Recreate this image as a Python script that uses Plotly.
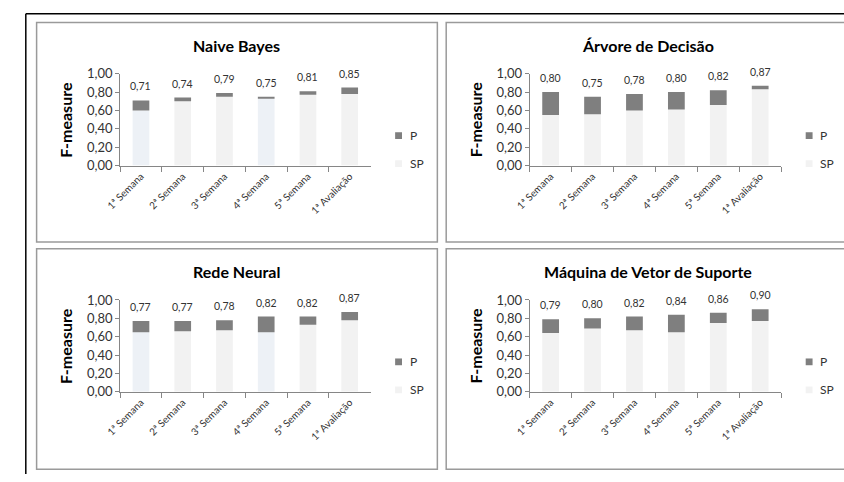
import plotly.graph_objects as go

W, H = 844, 482

categories = ["1ª Semana", "2ª Semana", "3ª Semana", "4ª Semana", "5ª Semana", "1ª Avaliação"]

# F-measure without preprocessing (SP) and with preprocessing (P)
nb_sp = [0.60, 0.70, 0.75, 0.73, 0.77, 0.78]
nb_p = [0.71, 0.74, 0.79, 0.75, 0.81, 0.85]

ad_sp = [0.55, 0.56, 0.60, 0.61, 0.66, 0.83]
ad_p = [0.80, 0.75, 0.78, 0.80, 0.82, 0.87]

rn_sp = [0.65, 0.66, 0.67, 0.65, 0.73, 0.78]
rn_p = [0.77, 0.77, 0.78, 0.82, 0.82, 0.87]

svm_sp = [0.64, 0.69, 0.67, 0.65, 0.75, 0.77]
svm_p = [0.79, 0.80, 0.82, 0.84, 0.86, 0.90]

titles = ["Naive Bayes", "Árvore de Decisão", "Rede Neural", "Máquina de Vetor de Suporte"]
y_ticks = [0.0, 0.2, 0.4, 0.6, 0.8, 1.0]
y_ticktext = ["0,00", "0,20", "0,40", "0,60", "0,80", "1,00"]
legend_names = ["P", "SP"]

FONT = "Lato, 'Open Sans', sans-serif"
DARK = "#7f7f7f"
LIGHT = "#f2f2f2"
LIGHT_BLUE = "#edf1f6"
AXIS = "#868686"
TXT = "#333333"


def px(x):
    return x / W


def py(y):
    return 1 - y / H


# pixel layout: (panel box, plot area box)
panels = [
    dict(box=(22, 15, 430, 242), plot=(107, 68, 362, 163), sp=nb_sp, p=nb_p, light_alt=True),
    dict(box=(439, 15, 852, 242), plot=(524, 68, 780, 163), sp=ad_sp, p=ad_p, light_alt=False),
    dict(box=(22, 249, 430, 477), plot=(107, 302, 362, 397), sp=rn_sp, p=rn_p, light_alt=True),
    dict(box=(439, 249, 852, 477), plot=(524, 302, 780, 397), sp=svm_sp, p=svm_p, light_alt=False),
]

fig = go.Figure()
shapes = []
annotations = []
layout_axes = {}

for i, (pan, title) in enumerate(zip(panels, titles), start=1):
    xa = "x" if i == 1 else f"x{i}"
    ya = "y" if i == 1 else f"y{i}"
    sp = pan["sp"]
    p = pan["p"]
    gain = [round(b - a, 4) for a, b in zip(sp, p)]
    if pan["light_alt"]:
        light_colors = [LIGHT_BLUE, LIGHT, LIGHT, LIGHT_BLUE, LIGHT, LIGHT]
    else:
        light_colors = [LIGHT] * 6

    fig.add_trace(go.Bar(
        x=categories, y=sp, name="SP", xaxis=xa, yaxis=ya, showlegend=False,
        marker=dict(color=light_colors, line=dict(width=0)),
        hoverinfo="skip",
    ))
    fig.add_trace(go.Bar(
        x=categories, y=gain, base=sp, name="P", xaxis=xa, yaxis=ya, showlegend=False,
        marker=dict(color=DARK, line=dict(width=0)),
        hoverinfo="skip",
    ))
    # total value labels above each bar
    for c, v in zip(categories, p):
        annotations.append(dict(
            x=c, y=v, xref=xa, yref=ya, text=f"{v:.2f}".replace(".", ","),
            showarrow=False, yanchor="middle", yshift=14,
            font=dict(family=FONT, size=10.5, color=TXT),
        ))

    bx0, by0, bx1, by1 = pan["box"]
    x0, y0, x1, y1 = pan["plot"]

    shapes.append(dict(
        type="rect", xref="paper", yref="paper",
        x0=px(bx0), x1=px(bx1), y0=py(by1), y1=py(by0),
        line=dict(color="#9a9a9a", width=1.5), fillcolor="rgba(0,0,0,0)",
    ))

    annotations.append(dict(
        x=px(226 if i in (1, 3) else 644), y=py(by0 + 24),
        xref="paper", yref="paper", text=f"<b>{title}</b>", showarrow=False,
        xanchor="center", yanchor="middle",
        font=dict(family=FONT, size=16, color="#000000"),
    ))
    annotations.append(dict(
        x=px(x0 - 55), y=py((y0 + y1) / 2), xref="paper", yref="paper",
        text="<b>F-measure</b>", textangle=-90, showarrow=False,
        xanchor="center", yanchor="middle",
        font=dict(family=FONT, size=16, color="#000000"),
    ))

    # legend: small swatch squares with labels
    for name, col, dy in zip(legend_names, [DARK, LIGHT], [-31, -2]):
        cy = y1 + dy
        shapes.append(dict(
            type="rect", xref="paper", yref="paper",
            x0=px(x1 + 25), x1=px(x1 + 32), y0=py(cy + 3.5), y1=py(cy - 3.5),
            line=dict(width=0), fillcolor=col,
        ))
        annotations.append(dict(
            x=px(x1 + 38), y=py(cy), xref="paper", yref="paper", text=name,
            showarrow=False, xanchor="left", yanchor="middle",
            font=dict(family=FONT, size=12, color=TXT),
        ))

    layout_axes["xaxis" if i == 1 else f"xaxis{i}"] = dict(
        domain=[px(x0), px(x1)], anchor=ya, type="category",
        showline=True, linecolor=AXIS, linewidth=1,
        ticks="outside", tickson="boundaries", ticklen=5, tickcolor=AXIS,
        tickangle=-45, tickfont=dict(family=FONT, size=10, color=TXT),
        showgrid=False, zeroline=False, fixedrange=True,
    )
    layout_axes["yaxis" if i == 1 else f"yaxis{i}"] = dict(
        domain=[py(y1), py(y0)], anchor=xa, range=[0, 1.0],
        tickvals=y_ticks, ticktext=y_ticktext,
        showline=True, linecolor=AXIS, linewidth=1,
        ticks="outside", ticklen=4, tickcolor=AXIS,
        tickfont=dict(family=FONT, size=13, color=TXT),
        showgrid=False, zeroline=False, fixedrange=True,
    )

# outer frame (top and left edges)
shapes.append(dict(type="line", xref="paper", yref="paper",
                   x0=px(11), x1=1, y0=py(6), y1=py(6),
                   line=dict(color="#000000", width=1.5)))
shapes.append(dict(type="line", xref="paper", yref="paper",
                   x0=px(11), x1=px(11), y0=0, y1=py(6),
                   line=dict(color="#000000", width=1.5)))

fig.update_layout(
    width=W, height=H,
    margin=dict(l=0, r=0, t=0, b=0),
    paper_bgcolor="white", plot_bgcolor="white",
    barmode="overlay", bargap=0.6,
    showlegend=False,
    shapes=shapes, annotations=annotations,
    **layout_axes,
)

fig.write_html(
    "out.html",
    post_script="document.body.style.margin='0';document.body.style.overflow='hidden';",
)
